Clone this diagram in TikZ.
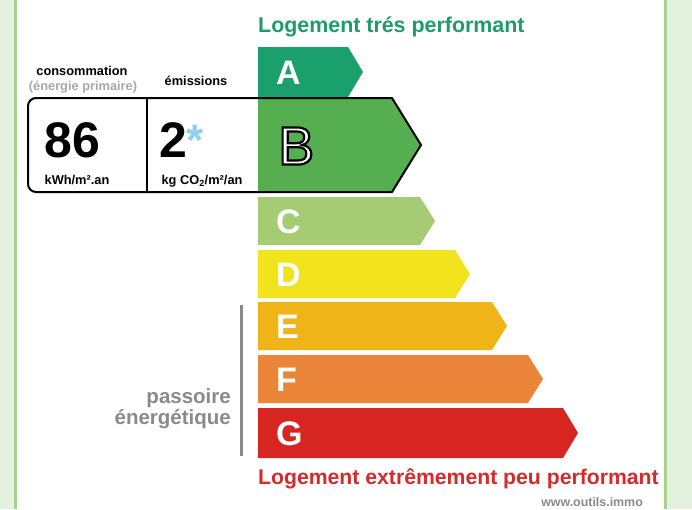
\documentclass[tikz,border=0pt]{standalone}
\usepackage{fontspec}
\setmainfont{Liberation Sans}
\definecolor{bggreen}{HTML}{E4F1DF}
\definecolor{bordergreen}{HTML}{A9D18E}
\definecolor{clsA}{HTML}{19A06C}
\definecolor{clsB}{HTML}{55AF50}
\definecolor{clsC}{HTML}{A5CB73}
\definecolor{clsD}{HTML}{F1E41C}
\definecolor{clsE}{HTML}{EFB418}
\definecolor{clsF}{HTML}{EA8539}
\definecolor{clsG}{HTML}{D72522}
\definecolor{titlegreen}{HTML}{1E9C6A}
\definecolor{titlered}{HTML}{D42B2B}
\definecolor{lightgrey}{HTML}{A8A8A8}
\definecolor{midgrey}{HTML}{8A8A8A}
\definecolor{starblue}{HTML}{8FD0F0}
\newcommand{\dpebar}[5]{% top, bottom, rect right, tip, colour
  \fill[#5] (258,#1) -- (#3,#1) -- (#4,{(#1+#2)/2}) -- (#3,#2) -- (258,#2) -- cycle;}
\begin{document}
\begin{tikzpicture}[x=1pt,y=-1pt,
  lettre/.style={anchor=west, text=white, font=\fontsize{34}{36}\selectfont\bfseries, inner sep=0pt},
  smallbold/.style={anchor=base, font=\fontsize{12.8}{14}\selectfont\bfseries, inner sep=0pt},
  bignum/.style={anchor=base west, font=\fontsize{50}{52}\selectfont\bfseries, inner sep=0pt}]
\useasboundingbox (0,0) rectangle (692,509);
\fill[bggreen] (0,0) rectangle (692,509);
\fill[white] (15,0) rectangle (665,509);
\draw[bordergreen, line width=3pt] (15,0) -- (15,509) (665,0) -- (665,509);

% titles
\node[anchor=base west, inner sep=0pt, text=titlegreen, font=\fontsize{21.4}{24}\selectfont\bfseries] (top) at (258,32) {Logement trés performant};
\node[anchor=base west, inner sep=0pt, text=titlered, font=\fontsize{21.2}{24}\selectfont\bfseries] (bottom) at (258,484) {Logement extrêmement peu performant};
\node[anchor=base east, inner sep=0pt, text=midgrey, font=\fontsize{12.4}{14}\selectfont\bfseries] (www) at (643,506) {www.outils.immo};

% bars
\dpebar{47}{97}{348}{363}{clsA}
\fill[clsB] (258,98) -- (392,98) -- (421,145) -- (392,192) -- (258,192) -- cycle;
\draw[black, line width=2pt, line join=miter] (258,98) -- (392,98) -- (421,145) -- (392,192) -- (258,192);
\dpebar{197}{245}{420}{435}{clsC}
\dpebar{250}{298}{455}{470}{clsD}
\dpebar{302}{350}{492}{507}{clsE}
\dpebar{355}{403}{528}{543}{clsF}
\dpebar{408}{458}{563}{578}{clsG}

\node[lettre] (la) at (276,73) {A};
\node[lettre] (lc) at (276,222) {C};
\node[lettre] (ld) at (276,275) {D};
\node[lettre] (le) at (276,327) {E};
\node[lettre] (lf) at (276,380) {F};
\node[lettre] (lg) at (276,434) {G};
% outlined B (fill white, stroke black)
\node[anchor=west, inner sep=0pt, text=white, font=\fontsize{54}{56}\selectfont] (lb) at (278,146)
  {\special{pdf:code 0 G 2.2 w 2 Tr}B\special{pdf:code 0 Tr}};

% value box
\draw[black, line width=2pt, rounded corners=8pt] (258,98) -- (28,98) -- (28,192) -- (258,192);
\draw[black, line width=2pt] (147,98) -- (147,192);
\node[smallbold] (cons) at (82,75) {consommation};
\node[smallbold, text=lightgrey] (prim) at (83,90) {(énergie primaire)};
\node[smallbold] (emis) at (196,85) {émissions};
\node[bignum] (v86) at (44,157) {86};
\node[bignum] (v2) at (159,157) {2};
\node[anchor=base west, inner sep=0pt, text=starblue, font=\fontsize{44}{46}\selectfont\bfseries] (star) at (186,155) {*};
\node[smallbold] (u1) at (77,184) {kWh/m².an};
\node[smallbold] (u2) at (202,184) {kg CO\textsubscript{2}/m²/an};

% passoire
\draw[midgrey, line width=3pt] (241,305) -- (241,456);
\node[anchor=base east, inner sep=0pt, text=midgrey, font=\fontsize{20.5}{24}\selectfont\bfseries] (pa) at (231,403) {passoire};
\node[anchor=base east, inner sep=0pt, text=midgrey, font=\fontsize{20.5}{24}\selectfont\bfseries] (en) at (231,424) {énergétique};
\end{tikzpicture}
\end{document}
